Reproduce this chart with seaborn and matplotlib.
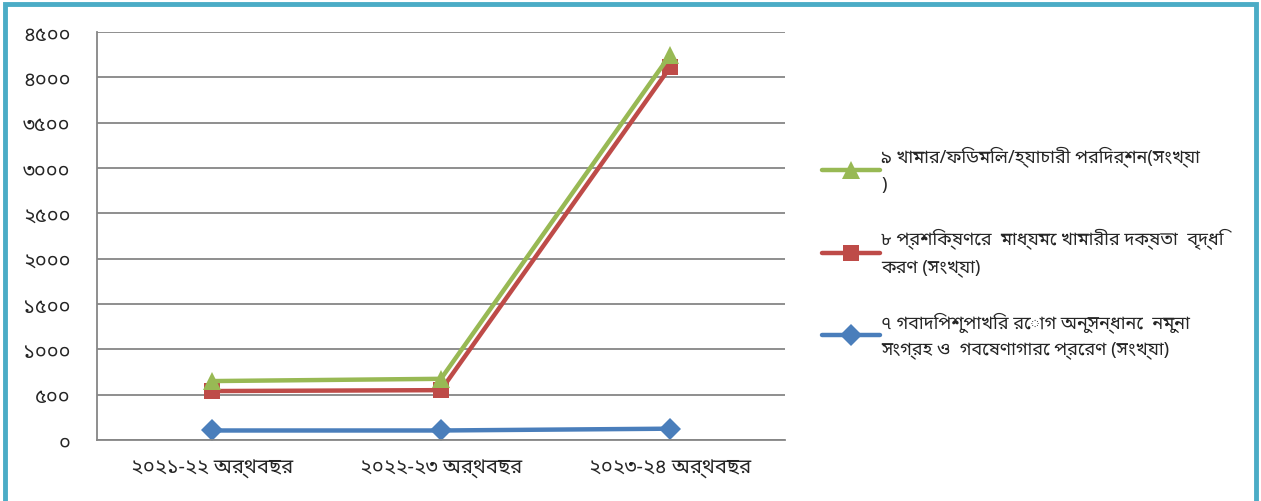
import numpy as np
import pandas as pd
import matplotlib
matplotlib.use("Agg")
import matplotlib.pyplot as plt
import seaborn as sns
from matplotlib.ticker import MultipleLocator, FuncFormatter, FixedLocator
from matplotlib.patches import Rectangle

# Data
years = ["২০২১-২২ অর্থবছর", "২০২২-২৩ অর্থবছর", "২০২৩-২৪ অর্থবছর"]
farm_visits = [650, 675, 4250]      # ৯ খামার/ফিডমিল/হ্যাচারী পরিদর্শন
training = [540, 550, 4115]         # ৮ প্রশিক্ষণের মাধ্যমে দক্ষতা বৃদ্ধি
samples = [105, 105, 125]           # ৭ নমুনা সংগ্রহ ও প্রেরণ

labels = [
    "৯ খামার/ফিডমিল/হ্যাচারী পরিদর্শন(সংখ্যা\n)",
    "৮ প্রশিক্ষণের  মাধ্যমে খামারীর দক্ষতা  বৃদ্ধি\nকরণ (সংখ্যা)",
    "৭ গবাদিপশুপাখির রোগ অনুসন্ধানে  নমুনা\nসংগ্রহ ও  গবেষণাগারে প্রেরণ (সংখ্যা)",
]

sns.set_style("white")
plt.rcParams['font.family'] = ['Noto Sans Bengali', 'Lohit Bengali', 'FreeSans',
                               'Noto Sans', 'DejaVu Sans']

bn_digits = str.maketrans("0123456789", "০১২৩৪৫৬৭৮৯")

fig = plt.figure(figsize=(12.61, 5.02), dpi=100)
ax = fig.add_axes([0.0769, 0.1215, 0.5456, 0.8127])

x = np.arange(len(years))
series = [
    (samples, "#4A7EBB", "D", 11, labels[2]),
    (training, "#BE4B48", "s", 11, labels[1]),
    (farm_visits, "#98B954", "^", 13, labels[0]),
]
for vals, col, mk, ms, lab in series:
    sns.lineplot(x=x, y=vals, ax=ax, color=col, marker=mk, markersize=ms,
                 markeredgewidth=0, linewidth=3.2, label=lab)

ax.set_xlim(-0.5, 2.5)
ax.set_ylim(0, 4500)
ax.yaxis.set_major_locator(MultipleLocator(500))
ax.yaxis.set_major_formatter(FuncFormatter(lambda v, p: str(int(v)).translate(bn_digits)))
ax.set_xticks(x)
ax.set_xticklabels(years)
ax.xaxis.set_minor_locator(FixedLocator([-0.5, 0.5, 1.5, 2.5]))
ax.tick_params(axis='x', which='major', length=0, pad=13, labelsize=14.5)
ax.tick_params(axis='x', which='minor', length=6, color="#868686", width=1.2)
ax.tick_params(axis='y', length=7, color="#868686", width=1.2, pad=12, labelsize=14.5)
ax.grid(axis='y', color="#868686", linewidth=1.3)
for s in ['top', 'right']:
    ax.spines[s].set_visible(False)
for s in ['left', 'bottom']:
    ax.spines[s].set_color("#868686")
    ax.spines[s].set_linewidth(1.3)

handles, lbls = ax.get_legend_handles_labels()
leg = ax.legend(handles[::-1], lbls[::-1], loc='center left', bbox_to_anchor=(1.03, 0.46),
                frameon=False, fontsize=13, handlelength=3.2, labelspacing=1.95,
                handletextpad=0.1)
for t in leg.get_texts():
    t.set_linespacing(1.55)

fig.patches.append(Rectangle((0.004, -0.02), 0.992, 1.01, transform=fig.transFigure,
                             fill=False, edgecolor="#4BACC6", linewidth=3.5))

plt.savefig("out.png", dpi=100)
